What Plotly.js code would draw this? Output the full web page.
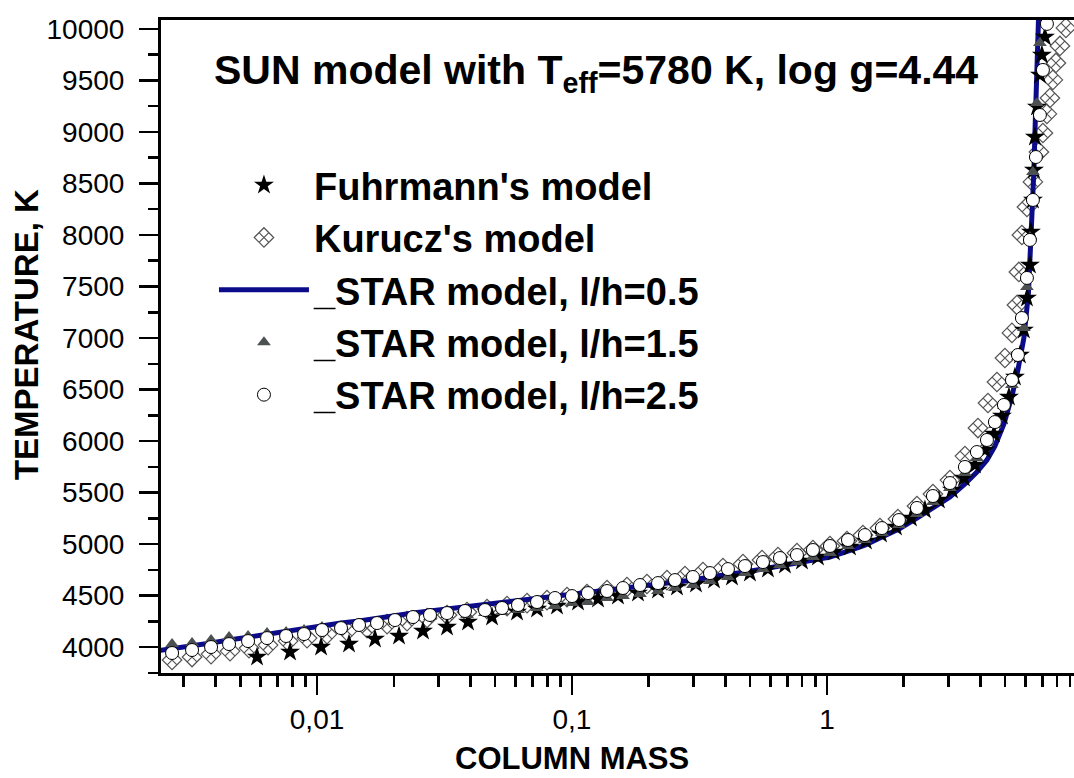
<!DOCTYPE html>
<html>
<head>
<meta charset="utf-8">
<script src="https://cdn.plot.ly/plotly-3.0.1.min.js"></script>
<style>
html,body{margin:0;padding:0;background:#fff;}
#chart{width:1074px;height:778px;}
</style>
</head>
<body>
<div id="chart"></div>
<script>
// ---------- data (column mass, temperature K) ----------
const fuhrmannMass = [0.005817,0.007837,0.01037,0.01335,0.01688,0.02097,0.02604,0.03235,0.03910,0.04857,
  0.06087,0.07291,0.08734,0.1056,0.1265,0.1515,0.1815,0.2175,0.2581,0.3064,
  0.3606,0.4242,0.4989,0.5869,0.6843,0.7980,0.9220,1.065,1.231,1.422,
  1.629,1.865,2.135,2.423,2.749,3.092,3.446,3.805,4.166,4.517,
  4.857,5.173,5.462,5.714,5.922,6.087,6.254,6.310,6.425,6.484,
  6.543,6.662,6.844,6.968,7.161];
const fuhrmannT = [3903,3951,4000,4029,4078,4107,4155,4194,4243,4291,
  4340,4369,4398,4437,4466,4495,4524,4553,4583,4612,
  4650,4680,4718,4757,4796,4835,4874,4922,4971,5029,
  5097,5165,5252,5330,5427,5524,5641,5767,5913,6068,
  6243,6427,6621,6835,7078,7388,7709,8029,8340,8631,
  8951,9243,9553,9748,9922];

const kuruczMass = [0.002700,0.003234,0.003840,0.004558,0.005412,0.006425,0.007698,0.009137,0.010944,0.01311,
  0.01571,0.01882,0.02254,0.02701,0.03235,0.03874,0.04642,0.05561,0.06662,0.07980,
  0.09559,0.1145,0.1372,0.1643,0.1968,0.2358,0.2774,0.3264,0.3910,0.4684,
  0.5561,0.6425,0.7627,0.8812,1.0275,1.198,1.384,1.614,1.898,2.254,
  2.604,3.037,3.477,3.910,4.280,4.642,4.989,5.316,5.561,5.662,
  5.817,6.087,6.425,6.782,7.032,7.290,7.490,7.696,7.907,8.198,8.656];
const kuruczT = [3874,3903,3932,3961,3990,4019,4058,4087,4126,4155,
  4184,4223,4252,4282,4311,4340,4369,4398,4427,4456,
  4485,4515,4553,4583,4612,4650,4689,4728,4767,4806,
  4845,4874,4913,4942,4981,5029,5087,5155,5243,5369,
  5485,5621,5854,6126,6369,6573,6806,7049,7320,7641,
  8000,8272,8515,8806,8990,9175,9330,9505,9670,9835,10010];

const star05Mass = [0.002316,0.002700,0.003234,0.003840,0.004517,0.005363,0.006367,0.007561,0.008893,0.01046,
  0.01242,0.01461,0.01719,0.02022,0.02379,0.02774,0.03235,0.03874,0.04558,0.05316,
  0.06141,0.07291,0.08577,0.1000,0.1155,0.1372,0.1585,0.1848,0.2175,0.2535,
  0.2982,0.3477,0.4090,0.4770,0.5611,0.6543,0.7627,0.8812,1.0275,1.209,
  1.409,1.643,1.916,2.254,2.604,3.037,3.477,3.874,4.242,4.558,
  4.944,5.316,5.611,5.922,6.170,6.254,6.371,6.484,6.543,6.662,6.723,6.784];
const star05T = [3961,3981,4010,4039,4068,4097,4126,4155,4184,4204,
  4233,4252,4282,4301,4330,4350,4369,4388,4408,4427,
  4447,4466,4485,4505,4524,4544,4563,4583,4602,4631,
  4650,4680,4699,4728,4757,4786,4816,4854,4874,4932,
  4990,5068,5146,5252,5350,5456,5583,5699,5816,5951,
  6165,6437,6689,7000,7437,7738,8020,8631,8990,9553,10087,10233];

const star15Mass = [0.002700,0.003234,0.003840,0.004517,0.005363,0.006367,0.007561,0.008893,0.01046,0.01242,
  0.01461,0.01719,0.02022,0.02379,0.02774,0.03235,0.03874,0.04558,0.05316,0.06141,
  0.07291,0.08577,0.1000,0.1155,0.1372,0.1585,0.1848,0.2175,0.2535,0.2982,
  0.3477,0.4090,0.4770,0.5611,0.6543,0.7627,0.8812,1.0275,1.209,1.409,
  1.643,1.916,2.254,2.604,3.037,3.477,3.874,4.242,4.558,4.944,
  5.316,5.611,5.922,6.087,6.254,6.425,6.662,6.844];
const star15T = [4029,4039,4068,4097,4107,4136,4146,4165,4194,4204,
  4214,4223,4243,4282,4291,4311,4311,4330,4340,4359,
  4379,4398,4427,4437,4476,4495,4515,4544,4573,4602,
  4641,4680,4718,4757,4796,4825,4874,4913,4981,5039,
  5107,5184,5291,5408,5544,5689,5835,5981,6155,6340,
  6544,6816,7097,7495,7981,8612,9282,9864];

const star25Mass = [0.002700,0.003234,0.003840,0.004517,0.005363,0.006367,0.007561,0.008893,0.01046,0.01242,
  0.01461,0.01719,0.02022,0.02379,0.02774,0.03235,0.03805,0.04558,0.05316,0.06141,
  0.07291,0.08577,0.1000,0.1155,0.1372,0.1585,0.1848,0.2175,0.2535,0.2982,
  0.3477,0.4090,0.4770,0.5611,0.6543,0.7627,0.8812,1.0275,1.209,1.409,
  1.643,1.916,2.254,2.604,3.037,3.477,3.874,4.242,4.558,4.944,
  5.316,5.611,5.817,6.087,6.254,6.425,6.601,6.844,7.032,7.290];
const star25T = [3942,3971,4000,4029,4058,4087,4107,4126,4165,4184,
  4214,4233,4262,4291,4311,4330,4350,4359,4379,4408,
  4437,4476,4495,4524,4544,4573,4602,4621,4650,4680,
  4718,4757,4786,4825,4864,4893,4942,4981,5039,5087,
  5155,5233,5350,5466,5592,5748,5893,6010,6184,6350,
  6592,6835,7194,7583,7952,8340,8757,9165,9602,10049];

const seriesNames = ["Fuhrmann's model", "Kurucz's model",
  "_STAR model, l/h=0.5", "_STAR model, l/h=1.5", "_STAR model, l/h=2.5"];
const xTickVals = [0.01, 0.1, 1];
const xTickText = ["0,01", "0,1", "1"];
const yTickVals = [4000,4500,5000,5500,6000,6500,7000,7500,8000,8500,9000,9500,10000];
const yTickText = ["4000","4500","5000","5500","6000","6500","7000","7500","8000","8500","9000","9500","10000"];
const titleText = 'SUN model with T<sub>eff</sub>=5780 K, log g=4.44';
const xTitleText = 'COLUMN MASS';
const yTitleText = 'TEMPERATURE, K';

// ---------- chart ----------
const minorX = [];
[-3,-2,-1,0].forEach(function(e){ for (let k=2;k<=9;k++) minorX.push(k*Math.pow(10,e)); });

const FONT = 'Liberation Sans, Arial, sans-serif';

const traces = [
  {x: kuruczMass, y: kuruczT, name: seriesNames[1], legendrank: 2, mode: 'markers', type: 'scatter',
   marker: {symbol: 'diamond-x-open', size: 15, color: '#555555', line: {width: 1.2, color: '#555555'}}},
  {x: star05Mass, y: star05T, name: seriesNames[2], legendrank: 3, mode: 'lines', type: 'scatter',
   line: {color: '#0c0c8a', width: 5}},
  {x: fuhrmannMass, y: fuhrmannT, name: seriesNames[0], legendrank: 1, mode: 'markers', type: 'scatter',
   marker: {symbol: 'star', size: 15, color: '#000000', line: {width: 0}}},
  {x: star15Mass, y: star15T, name: seriesNames[3], legendrank: 4, mode: 'markers', type: 'scatter',
   marker: {symbol: 'triangle-up', size: 12, color: '#4d5050', line: {width: 0}}},
  {x: star25Mass, y: star25T, name: seriesNames[4], legendrank: 5, mode: 'markers', type: 'scatter',
   marker: {symbol: 'circle', size: 13, color: '#ffffff', line: {width: 1, color: '#000000'}}}
];

const layout = {
  width: 1074, height: 778,
  paper_bgcolor: '#ffffff', plot_bgcolor: '#ffffff',
  margin: {l: 161, r: 0, t: 20, b: 105, pad: 0},
  font: {family: FONT, color: '#000000'},
  title: {
    text: titleText,
    font: {family: FONT, size: 41, weight: 'bold', color: '#000000'},
    x: 0.555, xanchor: 'center', xref: 'container',
    y: 0.91, yanchor: 'middle', yref: 'container'
  },
  showlegend: true,
  legend: {
    x: 0.058, xanchor: 'left', y: 0.795, yanchor: 'top',
    bgcolor: 'rgba(0,0,0,0)', borderwidth: 0,
    font: {family: FONT, size: 38, weight: 'bold', color: '#000000'},
    itemwidth: 90, tracegroupgap: 0, itemsizing: 'trace'
  },
  xaxis: {
    type: 'log', range: [-2.612, 0.969], autorange: false,
    showgrid: false, zeroline: false,
    showline: true, linecolor: '#000', linewidth: 3, mirror: true,
    ticks: 'outside', ticklen: 19, tickwidth: 2.5, tickcolor: '#000',
    tickmode: 'array', tickvals: xTickVals, ticktext: xTickText,
    tickfont: {family: FONT, size: 28, color: '#000'},
    minor: {tickmode: 'array', tickvals: minorX, ticks: 'outside', ticklen: 11, tickwidth: 2.5, tickcolor: '#000', showgrid: false}
  },
  yaxis: {
    range: [3748, 10087], autorange: false,
    showgrid: false, zeroline: false,
    showline: true, linecolor: '#000', linewidth: 3, mirror: false,
    ticks: 'outside', ticklen: 19, tickwidth: 2.5, tickcolor: '#000',
    tickmode: 'array', tickvals: yTickVals, ticktext: yTickText,
    ticklabelstandoff: 9,
    tickfont: {family: FONT, size: 28, color: '#000'},
    minor: {dtick: 250, tick0: 3750, ticks: 'outside', ticklen: 10, tickwidth: 2.5, tickcolor: '#000', showgrid: false}
  },
  annotations: [
    {text: xTitleText, xref: 'paper', yref: 'paper', x: 0.450, y: -0.131,
     xanchor: 'center', yanchor: 'middle', showarrow: false,
     font: {family: FONT, size: 31, weight: 'bold', color: '#000'}},
    {text: yTitleText, xref: 'paper', yref: 'paper', x: -0.1479, y: 0.519, textangle: -90,
     xanchor: 'center', yanchor: 'middle', showarrow: false,
     font: {family: FONT, size: 33, weight: 'bold', color: '#000'}}
  ]
};

Plotly.newPlot('chart', traces, layout, {displayModeBar: false, staticPlot: true});
</script>
</body>
</html>
